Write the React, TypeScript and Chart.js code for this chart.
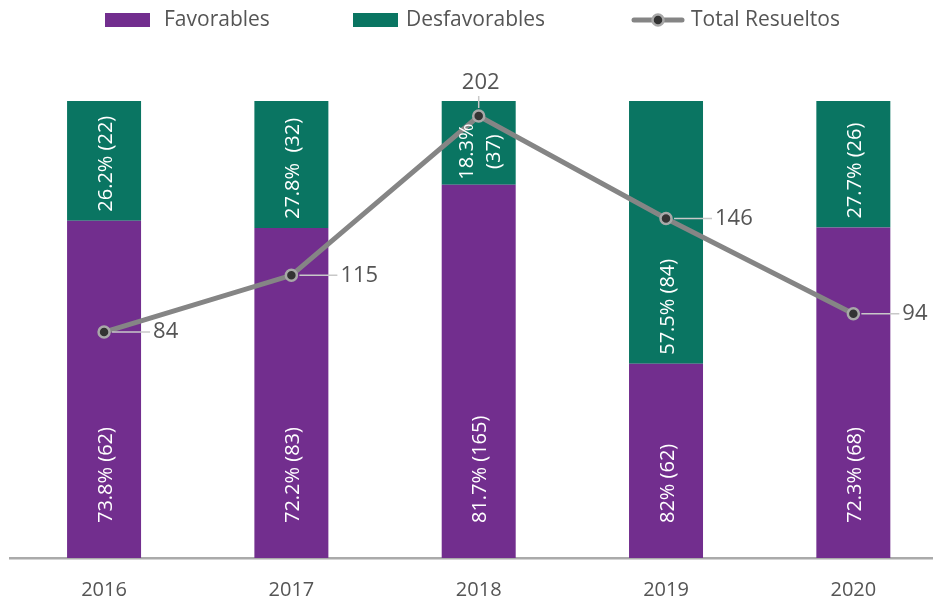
import React, { useEffect, useRef } from "react";
import { Chart, registerables } from "chart.js";

Chart.register(...registerables);

const years = ["2016", "2017", "2018", "2019", "2020"];
const favorables = [73.8, 72.2, 81.7, 42.5, 72.3];
const desfavorables = [26.2, 27.8, 18.3, 57.5, 27.7];
const totalResueltos = [84, 115, 202, 146, 94];
const favLabels: (string | string[])[] = ["73.8% (62)", "72.2% (83)", "81.7% (165)", "82% (62)", "72.3% (68)"];
const desLabels: (string | string[])[] = ["26.2% (22)", "27.8%  (32)", ["18.3%", "(37)"], "57.5% (84)", "27.7% (26)"];

const PURPLE = "#722E8E";
const GREEN = "#0A7562";
const LINE = "#858585";
const TEXT = "#555555";
const FONT = "'Open Sans', sans-serif";

const legendPlugin = {
  id: "customLegend",
  afterDraw(chart: any) {
    const ctx = chart.ctx as CanvasRenderingContext2D;
    ctx.save();
    ctx.font = `21px ${FONT}`;
    ctx.fillStyle = TEXT;
    ctx.textBaseline = "middle";
    ctx.textAlign = "left";
    const y = 20;
    const ds = chart.data.datasets;
    ctx.fillStyle = ds[0].backgroundColor;
    ctx.fillRect(105, 13, 45, 14);
    ctx.fillStyle = TEXT;
    ctx.fillText(ds[0].label, 164, y);
    ctx.fillStyle = ds[1].backgroundColor;
    ctx.fillRect(353, 13, 45, 14);
    ctx.fillStyle = TEXT;
    ctx.fillText(ds[1].label, 406, y);
    ctx.strokeStyle = ds[2].borderColor;
    ctx.lineWidth = 5;
    ctx.lineCap = "round";
    ctx.beginPath();
    ctx.moveTo(634, y);
    ctx.lineTo(682, y);
    ctx.stroke();
    ctx.beginPath();
    ctx.arc(658, y, 5.5, 0, Math.PI * 2);
    ctx.fillStyle = "#333333";
    ctx.fill();
    ctx.lineWidth = 2.5;
    ctx.strokeStyle = "#a8a8a8";
    ctx.stroke();
    ctx.fillStyle = TEXT;
    ctx.fillText(ds[2].label, 691, y);
    ctx.restore();
  },
};

const labelsPlugin = {
  id: "valueLabels",
  afterDatasetsDraw(chart: any) {
    const ctx = chart.ctx as CanvasRenderingContext2D;
    ctx.save();
    const sets: [number, (string | string[])[], number][] = [
      [0, favLabels, 35],
      [1, desLabels, 9],
    ];
    ctx.font = `20px ${FONT}`;
    ctx.fillStyle = "#ffffff";
    ctx.textBaseline = "middle";
    ctx.textAlign = "center";
    for (const [di, labels, pad] of sets) {
      const meta = chart.getDatasetMeta(di);
      meta.data.forEach((bar: any, i: number) => {
        const lab = labels[i];
        const lines = Array.isArray(lab) ? lab : [lab];
        const maxW = Math.max(...lines.map((l) => ctx.measureText(l).width));
        const cy = lines.length > 1 ? bar.base - 5 - maxW / 2 : bar.base - pad - maxW / 2;
        const lh = 27;
        lines.forEach((l, k) => {
          const off = (k - (lines.length - 1) / 2) * lh;
          ctx.save();
          ctx.translate(bar.x + 2 + off, cy);
          ctx.rotate(-Math.PI / 2);
          ctx.fillText(l, 0, 0);
          ctx.restore();
        });
      });
    }
    const lmeta = chart.getDatasetMeta(2);
    const vals = chart.data.datasets[2].data as number[];
    const maxIdx = vals.indexOf(Math.max(...vals));
    ctx.font = `22px ${FONT}`;
    ctx.fillStyle = TEXT;
    ctx.strokeStyle = "#c8c8c8";
    ctx.lineWidth = 1.5;
    lmeta.data.forEach((pt: any, i: number) => {
      const txt = String(vals[i]);
      if (i === maxIdx) {
        ctx.beginPath();
        ctx.moveTo(pt.x, pt.y - 8);
        ctx.lineTo(pt.x, pt.y - 20);
        ctx.stroke();
        ctx.textAlign = "center";
        ctx.textBaseline = "middle";
        ctx.fillText(txt, pt.x + 2, pt.y - 33);
      } else {
        ctx.beginPath();
        ctx.moveTo(pt.x + 8, pt.y);
        ctx.lineTo(pt.x + 46, pt.y);
        ctx.stroke();
        ctx.textAlign = "left";
        ctx.textBaseline = "middle";
        ctx.fillText(txt, pt.x + 49, pt.y);
      }
    });
    ctx.restore();
  },
};

export default function App() {
  const ref = useRef<HTMLCanvasElement | null>(null);
  useEffect(() => {
    document.body.style.margin = "0";
    document.body.style.overflow = "hidden";
    document.documentElement.style.overflow = "hidden";
    if (!ref.current) return;
    const chart = new Chart(ref.current, {
      data: {
        labels: years,
        datasets: [
          {
            type: "bar",
            label: "Favorables",
            data: favorables,
            backgroundColor: PURPLE,
            stack: "s",
            yAxisID: "y",
            order: 1,
            categoryPercentage: 1,
            barPercentage: 0.395,
          },
          {
            type: "bar",
            label: "Desfavorables",
            data: desfavorables,
            backgroundColor: GREEN,
            stack: "s",
            yAxisID: "y",
            order: 1,
            categoryPercentage: 1,
            barPercentage: 0.395,
          },
          {
            type: "line",
            label: "Total Resueltos",
            data: totalResueltos,
            yAxisID: "y1",
            order: 0,
            borderColor: LINE,
            borderWidth: 5,
            pointRadius: 5.5,
            pointBackgroundColor: "#333333",
            pointBorderColor: "#a8a8a8",
            pointBorderWidth: 2.5,
            tension: 0,
          },
        ] as any,
      },
      options: {
        animation: false,
        responsive: false,
        maintainAspectRatio: false,
        layout: { padding: { top: 101, left: 10.4, right: 3.4, bottom: 0 } },
        plugins: { legend: { display: false }, tooltip: { enabled: false } },
        scales: {
          x: {
            stacked: true,
            grid: { display: false },
            border: { color: "#aaaaaa", width: 2.5 },
            ticks: { color: TEXT, font: { family: FONT, size: 20 }, padding: 12 },
            afterFit: (s: any) => {
              s.height = 40;
            },
          },
          y: { stacked: true, min: 0, max: 100, display: false },
          y1: { min: -39.4, max: 210.2, display: false },
        },
      } as any,
      plugins: [legendPlugin, labelsPlugin],
    });
    return () => chart.destroy();
  }, []);
  return (
    <div style={{ width: 955, height: 598, overflow: "hidden" }}>
      <canvas ref={ref} width={955} height={598} style={{ display: "block" }} />
    </div>
  );
}
